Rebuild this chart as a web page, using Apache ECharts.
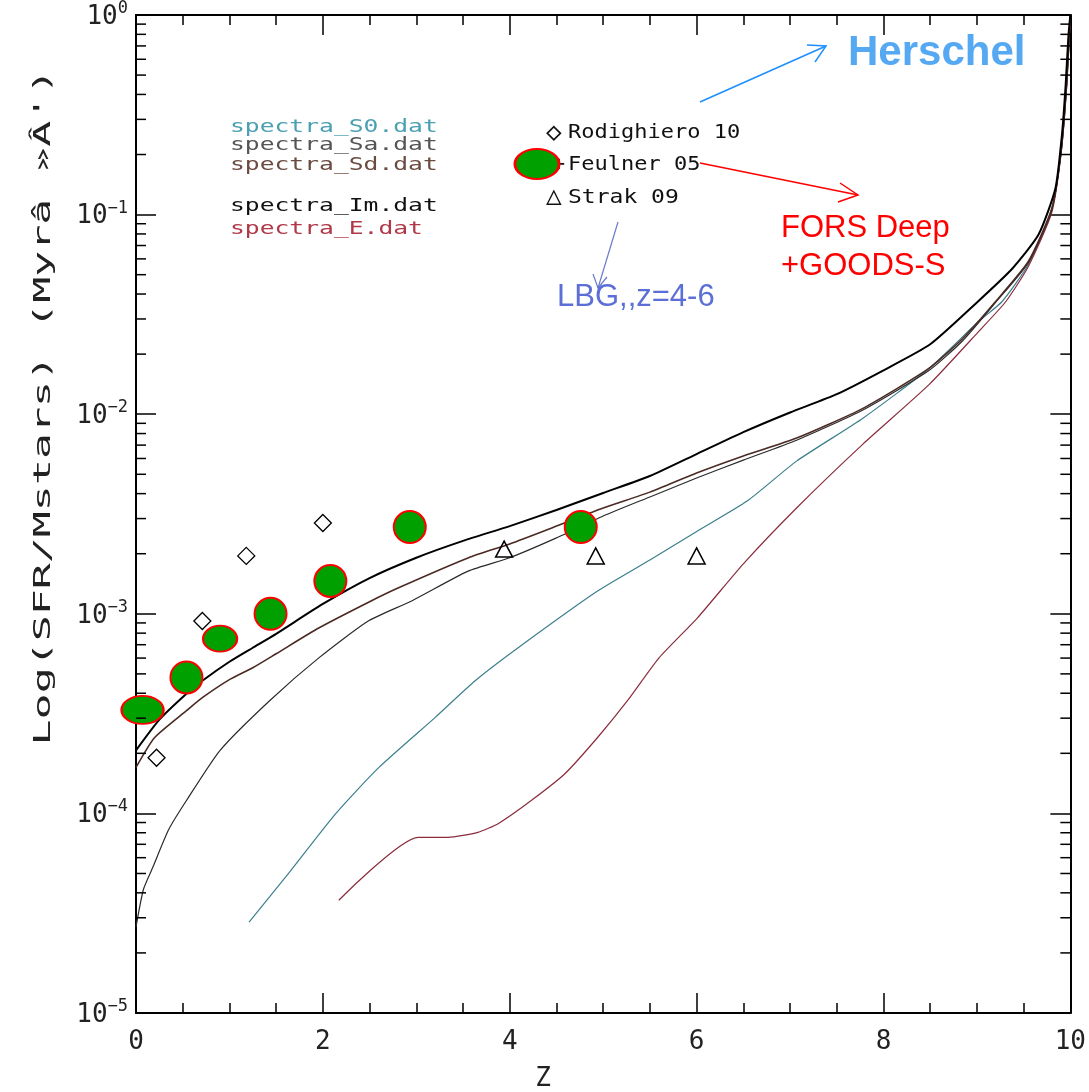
<!DOCTYPE html>
<html><head><meta charset="utf-8">
<script src="https://cdn.jsdelivr.net/npm/echarts@6/dist/echarts.min.js"></script>
<style>html,body{margin:0;padding:0;background:#fff}#c{width:1089px;height:1092px}</style>
</head><body><div id="c"></div>
<script>
// ---- data ----
const xTickLabels = ['0', '2', '4', '6', '8', '10'];
const yTickExponents = ['−5', '−4', '−3', '−2', '−1', '0'];

// spectra_Im.dat (thick black)
const imZ = [0, 0.25, 0.54, 0.71, 1.0, 1.25, 1.5, 2.0, 2.5, 3.0, 3.5, 4.0, 4.5, 5.0, 5.5, 6.0, 6.5, 7.0, 7.5, 8.0, 8.5, 9.0, 9.38, 9.66, 9.84, 9.91, 9.95, 9.98, 10.0];
const imV = [2.07e-4, 2.95e-4, 3.98e-4, 4.62e-4, 5.75e-4, 6.76e-4, 7.94e-4, 1.12e-3, 1.51e-3, 1.91e-3, 2.32e-3, 2.75e-3, 3.31e-3, 4.03e-3, 4.90e-3, 6.31e-3, 8.13e-3, 1.02e-2, 1.26e-2, 1.66e-2, 2.24e-2, 3.63e-2, 5.37e-2, 7.94e-2, 0.135, 0.251, 0.447, 0.794, 1.0];
// spectra_Sd.dat (brown)
const sdZ = [0, 0.2, 0.54, 0.71, 1.0, 1.25, 1.5, 1.96, 2.5, 2.81, 3.56, 4.0, 4.5, 5.0, 5.5, 6.0, 6.5, 7.07, 7.78, 8.49, 8.85, 9.2, 9.55, 9.8, 9.9, 9.96, 10];
const sdV = [1.70e-4, 2.40e-4, 3.27e-4, 3.80e-4, 4.68e-4, 5.37e-4, 6.31e-4, 8.51e-4, 1.15e-3, 1.35e-3, 1.91e-3, 2.24e-3, 2.75e-3, 3.39e-3, 4.07e-3, 5.07e-3, 6.17e-3, 7.59e-3, 1.07e-2, 1.70e-2, 2.40e-2, 3.67e-2, 5.82e-2, 0.107, 0.207, 0.447, 1.0];
// spectra_Sa.dat (thin dark)
const saZ = [0, 0.08, 0.18, 0.35, 0.54, 0.9, 1.43, 1.96, 2.49, 2.95, 3.56, 4.0, 4.5, 5.0, 5.5, 6.0, 6.5, 7.07, 7.78, 8.49, 8.85, 9.2, 9.55, 9.8, 9.9, 9.96, 10];
const saV = [2.7e-5, 4.17e-5, 5.37e-5, 8.3e-5, 1.16e-4, 2.07e-4, 3.67e-4, 6.03e-4, 9.23e-4, 1.16e-3, 1.64e-3, 1.91e-3, 2.40e-3, 3.09e-3, 3.85e-3, 4.79e-3, 5.89e-3, 7.41e-3, 1.05e-2, 1.66e-2, 2.34e-2, 3.63e-2, 5.75e-2, 0.105, 0.204, 0.447, 1.0];
// spectra_S0.dat (teal)
const s0Z = [1.21, 1.6, 2.14, 2.6, 3.2, 3.63, 4.09, 4.94, 5.5, 6.01, 6.54, 7.07, 7.78, 8.49, 9.02, 9.27, 9.55, 9.8, 9.9, 9.96, 10];
const s0V = [2.85e-5, 4.79e-5, 1.0e-4, 1.70e-4, 3.02e-4, 4.62e-4, 6.76e-4, 1.30e-3, 1.86e-3, 2.60e-3, 3.67e-3, 5.82e-3, 9.55e-3, 1.70e-2, 2.92e-2, 3.67e-2, 5.62e-2, 0.105, 0.204, 0.447, 1.0];
// spectra_E.dat (red)
const eZ = [2.17, 3.02, 3.34, 3.66, 3.88, 4.23, 4.59, 4.94, 5.26, 5.6, 6.01, 6.5, 7.07, 7.78, 8.49, 9.02, 9.31, 9.55, 9.8, 9.9, 9.96, 10];
const eV = [3.67e-5, 7.59e-5, 7.59e-5, 8.04e-5, 8.91e-5, 1.16e-4, 1.58e-4, 2.40e-4, 3.67e-4, 6.03e-4, 9.55e-4, 1.78e-3, 3.39e-3, 7.08e-3, 1.41e-2, 2.60e-2, 3.67e-2, 5.50e-2, 0.102, 0.200, 0.437, 1.0];

// observations
const rodZ = [0.22, 0.71, 1.18, 2.0];
const rodV = [1.9e-4, 9.2e-4, 1.95e-3, 2.85e-3];
const strakZ = [3.94, 4.92, 6.0];
const strakV = [2.11e-3, 1.95e-3, 1.95e-3];
const feulZ = [0.07, 0.54, 0.9, 1.44, 2.08, 2.93, 4.76];
const feulV = [3.3e-4, 4.8e-4, 7.5e-4, 1.0e-3, 1.46e-3, 2.72e-3, 2.72e-3];
// marker sizes (style, kept apart from data)
const feulSizes = [[42, 28], [32, 32], [34, 26], [32, 32], [32, 32], [32, 32], [32, 32]];

// ---- build ----
const pairs = (zs, vs) => zs.map((z, i) => [z, vs[i]]);
const minorVals = [];
for (let e = -5; e < 0; e++) for (let m = 2; m <= 9; m++) minorVals.push([0, m * Math.pow(10, e)]);

const MONO = "'DejaVu Sans Mono', 'DejaVu Sans', monospace";
const SANS = "'Liberation Sans', Arial, sans-serif";
const tickStyle = {color: '#000', width: 1.5};

function lineSeries(name, zs, vs, color, width) {
  return {name, type: 'line', data: pairs(zs, vs), showSymbol: false, symbol: 'none',
    smooth: 0.2,
    lineStyle: {color, width}, z: 2, animation: false};
}

const chart = echarts.init(document.getElementById('c'), null, {renderer: 'canvas'});
const option = {
  animation: false,
  backgroundColor: '#fff',
  grid: {left: 136, right: 14, top: 13, bottom: 79},
  xAxis: [
    {type: 'value', min: 0, max: 10, interval: 2, position: 'bottom',
      axisLine: {onZero: false, lineStyle: {color: '#000', width: 2}},
      axisTick: {inside: true, length: 20, lineStyle: tickStyle},
      minorTick: {show: true, splitNumber: 4, length: 10, lineStyle: tickStyle},
      splitLine: {show: false},
      axisLabel: {margin: 16, fontFamily: MONO, fontSize: 26, color: '#222',
        formatter: v => xTickLabels[Math.round(v / 2)]}},
    {type: 'value', min: 0, max: 10, interval: 2, position: 'top',
      axisLine: {onZero: false, lineStyle: {color: '#000', width: 2}},
      axisTick: {inside: true, length: 20, lineStyle: tickStyle},
      minorTick: {show: true, splitNumber: 4, length: 10, lineStyle: tickStyle},
      splitLine: {show: false}, axisLabel: {show: false}}
  ],
  yAxis: [
    {type: 'log', logBase: 10, min: 1e-5, max: 1, position: 'left',
      axisLine: {onZero: false, lineStyle: {color: '#000', width: 2}},
      axisTick: {inside: true, length: 20, lineStyle: tickStyle},
      splitLine: {show: false},
      axisLabel: {margin: 8, color: '#222',
        formatter: v => '{b|10}{s|' + yTickExponents[Math.round(Math.log10(v)) + 5] + '}',
        rich: {b: {fontFamily: MONO, fontSize: 26, lineHeight: 30, verticalAlign: 'bottom', color: '#222'},
               s: {fontFamily: MONO, fontSize: 17, lineHeight: 30, verticalAlign: 'top', color: '#222'}}}},
    {type: 'log', logBase: 10, min: 1e-5, max: 1, position: 'right',
      axisLine: {onZero: false, lineStyle: {color: '#000', width: 2}},
      axisTick: {inside: true, length: 20, lineStyle: tickStyle},
      splitLine: {show: false}, axisLabel: {show: false}}
  ],
  series: [
    {type: 'custom', coordinateSystem: 'cartesian2d', silent: true, clip: false, z: 6,
      data: minorVals, encode: {x: 0, y: 1},
      renderItem: (params, api) => {
        const v = api.value(1);
        const pL = api.coord([0, v]);
        const pR = api.coord([10, v]);
        return {type: 'group', children: [
          {type: 'line', shape: {x1: pL[0], y1: pL[1], x2: pL[0] + 10, y2: pL[1]}, style: {stroke: '#000', lineWidth: 1.5}},
          {type: 'line', shape: {x1: pR[0] - 10, y1: pR[1], x2: pR[0], y2: pR[1]}, style: {stroke: '#000', lineWidth: 1.5}}
        ]};
      }},
    lineSeries('spectra_S0.dat', s0Z, s0V, '#3b7f8c', 1.2),
    lineSeries('spectra_E.dat', eZ, eV, '#8a2c3c', 1.2),
    lineSeries('spectra_Sa.dat', saZ, saV, '#2a2a2a', 1.2),
    lineSeries('spectra_Sd.dat', sdZ, sdV, '#4a2a22', 1.6),
    lineSeries('spectra_Im.dat', imZ, imV, '#000000', 2),
    {name: 'Rodighiero 10', type: 'scatter', data: pairs(rodZ, rodV), symbol: 'diamond', symbolSize: [17, 17],
      itemStyle: {color: 'rgba(0,0,0,0)', borderColor: '#000', borderWidth: 1.3, opacity: 1}, z: 3},
    {name: 'Strak 09', type: 'scatter', data: pairs(strakZ, strakV), symbol: 'triangle', symbolSize: [17, 16],
      itemStyle: {color: 'rgba(0,0,0,0)', borderColor: '#000', borderWidth: 1.5, opacity: 1}, z: 3},
    {name: 'Feulner 05', type: 'scatter', z: 4,
      data: feulZ.map((z, i) => ({value: [z, feulV[i]], symbolSize: feulSizes[i]})),
      symbol: 'circle', itemStyle: {color: '#00a000', borderColor: '#ff0000', borderWidth: 2, opacity: 1}}
  ],
  graphic: [
    // left legend (curve names)
    {type: 'text', x: 230, y: 128, scaleX: 1.45, style: {text: 'spectra_S0.dat', font: '17px ' + MONO, fill: '#4a9fb0', verticalAlign: 'middle'}},
    {type: 'text', x: 230, y: 146, scaleX: 1.45, style: {text: 'spectra_Sa.dat', font: '17px ' + MONO, fill: '#555555', verticalAlign: 'middle'}},
    {type: 'text', x: 230, y: 166, scaleX: 1.45, style: {text: 'spectra_Sd.dat', font: '17px ' + MONO, fill: '#6b4a40', verticalAlign: 'middle'}},
    {type: 'text', x: 230, y: 207, scaleX: 1.45, style: {text: 'spectra_Im.dat', font: '17px ' + MONO, fill: '#111111', verticalAlign: 'middle'}},
    {type: 'text', x: 230, y: 230, scaleX: 1.45, style: {text: 'spectra_E.dat', font: '17px ' + MONO, fill: '#b03848', verticalAlign: 'middle'}},
    // right legend (observations)
    {type: 'text', x: 546, y: 133, style: {text: '◇', font: '26px ' + MONO, fill: '#111', verticalAlign: 'middle'}},
    {type: 'text', x: 568, y: 133, scaleX: 1.1, style: {text: 'Rodighiero 10', font: '20px ' + MONO, fill: '#111', verticalAlign: 'middle'}},
    {type: 'text', x: 553, y: 165, style: {text: '+', font: '20px ' + MONO, fill: '#111', verticalAlign: 'middle'}},
    {type: 'text', x: 568, y: 165, scaleX: 1.1, style: {text: 'Feulner 05', font: '20px ' + MONO, fill: '#111', verticalAlign: 'middle'}},
    {type: 'circle', x: 537, y: 164, scaleX: 1.47, shape: {cx: 0, cy: 0, r: 15},
      style: {fill: '#00a000', stroke: '#ff0000', lineWidth: 2, strokeNoScale: true}},
    {type: 'text', x: 546, y: 197, style: {text: '△', font: '26px ' + MONO, fill: '#111', verticalAlign: 'middle'}},
    {type: 'text', x: 568, y: 198, scaleX: 1.15, style: {text: 'Strak 09', font: '20px ' + MONO, fill: '#111', verticalAlign: 'middle'}},
    // annotations
    {type: 'text', x: 848, y: 53, style: {text: 'Herschel', font: 'bold 42px ' + SANS, fill: '#55a8f2', verticalAlign: 'middle'}},
    {type: 'polyline', shape: {points: [[700, 102], [826, 46]]}, style: {stroke: '#1e8fff', lineWidth: 1.5, fill: null}},
    {type: 'polyline', shape: {points: [[807, 45], [826, 46], [815, 62]]}, style: {stroke: '#1e8fff', lineWidth: 1.5, fill: null}},
    {type: 'polyline', shape: {points: [[700, 163], [858, 195]]}, style: {stroke: '#ff0000', lineWidth: 1.5, fill: null}},
    {type: 'polyline', shape: {points: [[840, 183], [858, 195], [838, 202]]}, style: {stroke: '#ff0000', lineWidth: 1.5, fill: null}},
    {type: 'text', x: 781, y: 228, style: {text: 'FORS Deep', font: '31px ' + SANS, fill: '#ff0000', verticalAlign: 'middle'}},
    {type: 'text', x: 781, y: 266, style: {text: '+GOODS-S', font: '31px ' + SANS, fill: '#ff0000', verticalAlign: 'middle'}},
    {type: 'polyline', shape: {points: [[618, 222], [598, 288]]}, style: {stroke: '#6a7acc', lineWidth: 1.2, fill: null}},
    {type: 'polyline', shape: {points: [[593, 274], [598, 288], [607, 277]]}, style: {stroke: '#6a7acc', lineWidth: 1.2, fill: null}},
    {type: 'text', x: 557, y: 297, style: {text: 'LBG,,z=4-6', font: '31px ' + SANS, fill: '#5b6fd6', verticalAlign: 'middle'}},
    // axis titles
    {type: 'text', x: 543, y: 1079, style: {text: 'Z', font: '26px ' + MONO, fill: '#222', align: 'center', verticalAlign: 'middle'}},
    {type: 'text', x: 44, y: 407, rotation: Math.PI / 2, scaleX: 1.88,
      style: {text: "Log(SFR/Mstars) (Myrâ »Â')", font: '23px ' + MONO, fill: '#222', align: 'center', verticalAlign: 'middle'}}
  ]
};
chart.setOption(option);
</script>
</body></html>
